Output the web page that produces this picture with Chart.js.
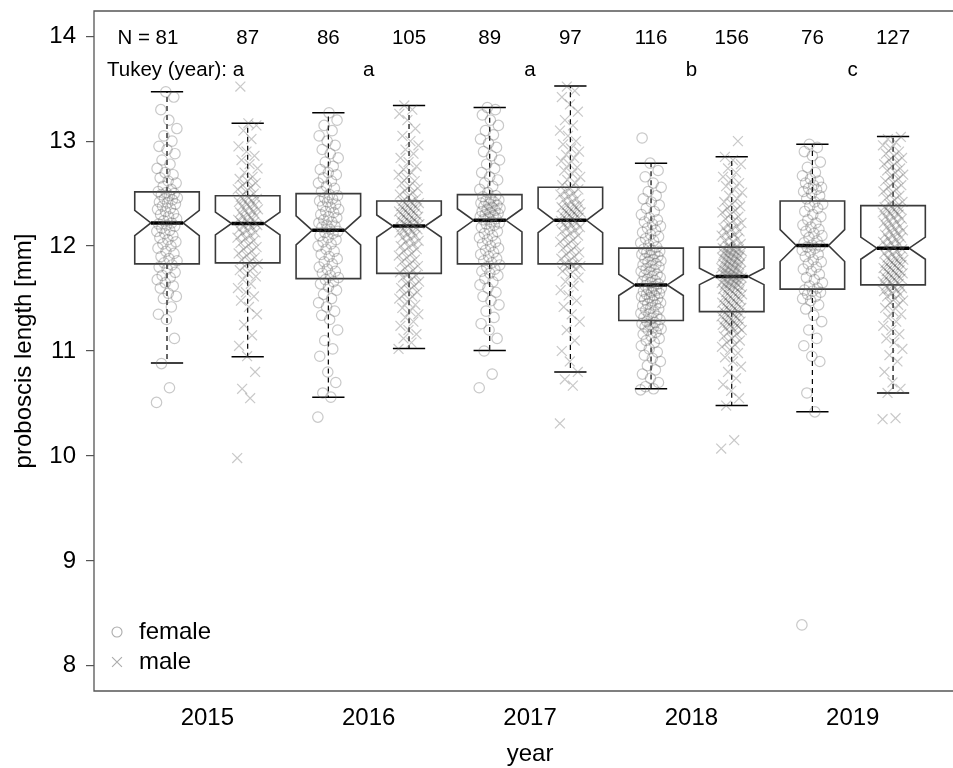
<!DOCTYPE html>
<html>
<head>
<meta charset="utf-8">
<script src="https://cdn.jsdelivr.net/npm/chart.js@4.4.0/dist/chart.umd.min.js"></script>
<style>
  html, body { margin: 0; padding: 0; background: #fff; }
</style>
</head>
<body>
<canvas id="proboscis-chart" width="953" height="768"></canvas>
<script>
// categories
const years = ['2015', '2016', '2017', '2018', '2019'];
const yearTickPos = [1.5, 3.5, 5.5, 7.5, 9.5];
const yTicks = [8, 9, 10, 11, 12, 13, 14];
const tukeyLetters = ['a', 'a', 'a', 'b', 'c'];

// box stats, order: 2015 f, 2015 m, 2016 f, 2016 m, ... 2019 m
const groupN = [81, 87, 86, 105, 89, 97, 116, 156, 76, 127];
const whiskerLo = [10.885, 10.945, 10.56, 11.025, 11.005, 10.80, 10.64, 10.48, 10.42, 10.60];
const q1 = [11.83, 11.84, 11.69, 11.74, 11.83, 11.83, 11.29, 11.375, 11.59, 11.63];
const median = [12.22, 12.215, 12.15, 12.19, 12.245, 12.245, 11.63, 11.71, 12.005, 11.98];
const q3 = [12.516, 12.48, 12.50, 12.43, 12.49, 12.56, 11.98, 11.99, 12.43, 12.385];
const whiskerHi = [13.47, 13.17, 13.27, 13.34, 13.32, 13.525, 12.79, 12.85, 12.97, 13.045];

// individual measurements (mm)
const female2015 = [10.51, 10.65, 10.88, 11.12, 11.3, 11.35, 11.42, 11.5, 11.52, 11.55, 11.6, 11.62, 11.65, 11.68, 11.7, 11.72, 11.75, 11.78, 11.8, 11.82,
  11.84, 11.86, 11.88, 11.9, 11.93, 11.95, 11.98, 12.0, 12.02, 12.04, 12.06, 12.08, 12.1, 12.12, 12.14, 12.15, 12.17, 12.19, 12.2, 12.21,
  12.22, 12.24, 12.26, 12.28, 12.3, 12.31, 12.33, 12.35, 12.36, 12.38, 12.4, 12.41, 12.42, 12.44, 12.45, 12.46, 12.48, 12.49, 12.5, 12.51, 12.52,
  12.54, 12.57, 12.6, 12.62, 12.65, 12.68, 12.7, 12.74, 12.78, 12.82, 12.88, 12.92, 12.95, 13.0, 13.05, 13.12, 13.2, 13.3, 13.42, 13.47];
const male2015 = [9.98, 10.55, 10.64, 10.8, 10.95, 11.05, 11.15, 11.25, 11.35, 11.42, 11.48, 11.52, 11.56, 11.6, 11.64, 11.68, 11.71, 11.74, 11.77, 11.79, 11.81, 11.83,
  11.85, 11.87, 11.89, 11.91, 11.93, 11.95, 11.97, 11.99, 12.01, 12.03, 12.05, 12.07, 12.08, 12.1, 12.12, 12.13, 12.15, 12.16, 12.18, 12.19, 12.2, 12.21,
  12.22, 12.23, 12.24, 12.25, 12.27, 12.28, 12.29, 12.3, 12.32, 12.33, 12.34, 12.35, 12.37, 12.38, 12.39, 12.4, 12.42, 12.43, 12.44, 12.45, 12.46, 12.47,
  12.5, 12.52, 12.54, 12.56, 12.58, 12.6, 12.62, 12.64, 12.66, 12.7, 12.74, 12.78, 12.82, 12.86, 12.9, 12.95, 13.02, 13.1, 13.15, 13.17, 13.52];
const female2016 = [10.37, 10.56, 10.6, 10.7, 10.8, 10.95, 11.02, 11.1, 11.2, 11.3, 11.34, 11.38, 11.42, 11.46, 11.5, 11.54, 11.58, 11.61, 11.64, 11.66, 11.68,
  11.7, 11.72, 11.74, 11.76, 11.78, 11.8, 11.83, 11.85, 11.88, 11.9, 11.92, 11.95, 11.97, 12.0, 12.02, 12.04, 12.06, 12.08, 12.1, 12.12, 12.13, 12.14,
  12.16, 12.18, 12.19, 12.2, 12.22, 12.23, 12.25, 12.27, 12.28, 12.3, 12.32, 12.33, 12.35, 12.37, 12.38, 12.4, 12.42, 12.43, 12.45, 12.46, 12.48, 12.49,
  12.52, 12.55, 12.57, 12.6, 12.62, 12.65, 12.68, 12.7, 12.73, 12.76, 12.8, 12.84, 12.88, 12.92, 12.96, 13.0, 13.05, 13.1, 13.15, 13.2, 13.27];
const male2016 = [11.02, 11.08, 11.12, 11.16, 11.2, 11.24, 11.28, 11.32, 11.35, 11.38, 11.41, 11.44, 11.47, 11.5, 11.52, 11.54, 11.56, 11.58, 11.6, 11.62, 11.64, 11.66, 11.68, 11.7, 11.72, 11.73,
  11.75, 11.77, 11.79, 11.81, 11.83, 11.85, 11.87, 11.89, 11.91, 11.93, 11.95, 11.97, 11.99, 12.0, 12.02, 12.04, 12.05, 12.07, 12.08, 12.1, 12.11, 12.13, 12.14, 12.15, 12.16, 12.17, 12.18,
  12.19, 12.2, 12.21, 12.22, 12.22, 12.23, 12.24, 12.25, 12.26, 12.27, 12.28, 12.29, 12.3, 12.31, 12.32, 12.33, 12.34, 12.35, 12.36, 12.37, 12.38, 12.39, 12.4, 12.41, 12.42, 12.43,
  12.45, 12.47, 12.49, 12.51, 12.53, 12.55, 12.57, 12.6, 12.62, 12.65, 12.68, 12.7, 12.73, 12.76, 12.8, 12.84, 12.88, 12.92, 12.96, 13.0, 13.05, 13.12, 13.2, 13.26, 13.3, 13.34];
const female2017 = [10.65, 10.78, 11.0, 11.12, 11.2, 11.26, 11.32, 11.38, 11.44, 11.48, 11.52, 11.56, 11.6, 11.63, 11.66, 11.69, 11.72, 11.74, 11.76, 11.78, 11.8, 11.82,
  11.84, 11.86, 11.88, 11.9, 11.92, 11.94, 11.96, 11.98, 12.0, 12.02, 12.04, 12.06, 12.08, 12.1, 12.12, 12.14, 12.16, 12.18, 12.2, 12.21, 12.22, 12.23,
  12.25, 12.26, 12.27, 12.28, 12.29, 12.3, 12.31, 12.32, 12.33, 12.34, 12.35, 12.36, 12.37, 12.38, 12.39, 12.4, 12.41, 12.42, 12.43, 12.44, 12.45, 12.47, 12.48,
  12.51, 12.54, 12.57, 12.6, 12.63, 12.66, 12.7, 12.74, 12.78, 12.82, 12.86, 12.9, 12.94, 12.98, 13.02, 13.06, 13.1, 13.15, 13.2, 13.25, 13.3, 13.32];
const male2017 = [10.31, 10.67, 10.73, 10.8, 10.9, 11.0, 11.1, 11.2, 11.28, 11.35, 11.42, 11.48, 11.53, 11.58, 11.62, 11.66, 11.7, 11.73, 11.76, 11.78, 11.8, 11.81, 11.82, 11.83,
  11.84, 11.86, 11.88, 11.9, 11.92, 11.94, 11.96, 11.98, 12.0, 12.02, 12.04, 12.06, 12.08, 12.1, 12.12, 12.14, 12.15, 12.17, 12.18, 12.2, 12.21, 12.22, 12.23, 12.24,
  12.25, 12.26, 12.27, 12.28, 12.29, 12.3, 12.31, 12.32, 12.33, 12.34, 12.35, 12.36, 12.37, 12.38, 12.39, 12.4, 12.42, 12.44, 12.45, 12.47, 12.49, 12.5, 12.52, 12.54, 12.55,
  12.58, 12.6, 12.63, 12.66, 12.69, 12.72, 12.75, 12.78, 12.81, 12.84, 12.87, 12.9, 12.93, 12.97, 13.0, 13.05, 13.1, 13.15, 13.2, 13.28, 13.35, 13.42, 13.48, 13.52];
const female2018 = [10.63, 10.64, 10.66, 10.7, 10.74, 10.78, 10.82, 10.86, 10.9, 10.93, 10.96, 10.99, 11.02, 11.05, 11.08, 11.1, 11.12, 11.14, 11.16, 11.18, 11.2, 11.21, 11.22, 11.23, 11.24, 11.25, 11.26, 11.27, 11.28,
  11.3, 11.31, 11.32, 11.33, 11.35, 11.36, 11.37, 11.39, 11.4, 11.41, 11.43, 11.44, 11.45, 11.46, 11.48, 11.49, 11.5, 11.51, 11.52, 11.53, 11.54, 11.55, 11.56, 11.57, 11.58, 11.59, 11.6, 11.61, 11.62,
  11.64, 11.65, 11.66, 11.67, 11.68, 11.7, 11.71, 11.72, 11.73, 11.75, 11.76, 11.77, 11.78, 11.8, 11.81, 11.82, 11.83, 11.85, 11.86, 11.87, 11.88, 11.9, 11.91, 11.92, 11.93, 11.94, 11.95, 11.96, 11.97,
  11.99, 12.01, 12.03, 12.05, 12.07, 12.09, 12.11, 12.13, 12.15, 12.17, 12.19, 12.21, 12.23, 12.25, 12.27, 12.3, 12.33, 12.36, 12.39, 12.42, 12.45, 12.48, 12.52, 12.56, 12.6, 12.66, 12.72, 12.79, 13.03];
const male2018 = [10.07, 10.15, 10.48, 10.55, 10.62, 10.68, 10.74, 10.8, 10.85, 10.9, 10.94, 10.98, 11.01, 11.04, 11.06, 11.08, 11.1, 11.12, 11.14, 11.16,
  11.18, 11.2, 11.21, 11.22, 11.23, 11.24, 11.25, 11.26, 11.27, 11.28, 11.29, 11.3, 11.31, 11.32, 11.33, 11.34, 11.35, 11.36, 11.37,
  11.38, 11.39, 11.4, 11.41, 11.42, 11.43, 11.44, 11.45, 11.46, 11.47, 11.48, 11.49, 11.5, 11.51, 11.52, 11.53, 11.54, 11.55, 11.56, 11.57, 11.58, 11.59,
  11.6, 11.6, 11.61, 11.62, 11.63, 11.63, 11.64, 11.65, 11.66, 11.66, 11.67, 11.68, 11.68, 11.69, 11.7, 11.7, 11.71,
  11.72, 11.72, 11.73, 11.74, 11.74, 11.75, 11.76, 11.76, 11.77, 11.78, 11.79, 11.79, 11.8, 11.81, 11.82, 11.82, 11.83, 11.84, 11.85, 11.85,
  11.86, 11.87, 11.88, 11.88, 11.89, 11.9, 11.91, 11.91, 11.92, 11.93, 11.94, 11.94, 11.95, 11.96, 11.96, 11.97, 11.98, 11.98, 11.99,
  12.0, 12.02, 12.04, 12.05, 12.07, 12.08, 12.1, 12.11, 12.13, 12.14, 12.16, 12.17, 12.19, 12.2, 12.22, 12.24, 12.26, 12.28, 12.3, 12.32,
  12.34, 12.36, 12.38, 12.4, 12.42, 12.45, 12.48, 12.51, 12.54, 12.57, 12.6, 12.63, 12.66, 12.7, 12.74, 12.78, 12.82, 12.85, 13.0];
const female2019 = [8.39, 10.42, 10.6, 10.9, 10.95, 11.05, 11.12, 11.2, 11.28, 11.34, 11.4, 11.44, 11.48, 11.5, 11.52, 11.54, 11.56, 11.57, 11.58,
  11.6, 11.62, 11.65, 11.68, 11.7, 11.73, 11.76, 11.78, 11.8, 11.83, 11.85, 11.87, 11.9, 11.92, 11.94, 11.96, 11.98, 11.99, 12.0,
  12.01, 12.03, 12.05, 12.08, 12.1, 12.12, 12.14, 12.16, 12.18, 12.2, 12.22, 12.25, 12.28, 12.3, 12.33, 12.36, 12.38, 12.4, 12.42,
  12.45, 12.48, 12.5, 12.52, 12.54, 12.55, 12.56, 12.58, 12.6, 12.62, 12.64, 12.67, 12.7, 12.75, 12.8, 12.86, 12.9, 12.94, 12.97];
const male2019 = [10.35, 10.36, 10.6, 10.64, 10.7, 10.8, 10.9, 10.96, 11.02, 11.08, 11.12, 11.16, 11.2, 11.24, 11.28, 11.32, 11.35, 11.38, 11.41, 11.44, 11.46, 11.48, 11.5, 11.52, 11.54, 11.55, 11.57, 11.58, 11.59, 11.6, 11.61, 11.62,
  11.64, 11.65, 11.66, 11.67, 11.68, 11.69, 11.7, 11.71, 11.72, 11.73, 11.74, 11.75, 11.76, 11.77, 11.78, 11.79, 11.8, 11.81, 11.82, 11.83, 11.84, 11.85, 11.86, 11.87, 11.88, 11.89, 11.9, 11.92, 11.93, 11.95, 11.96, 11.97,
  11.99, 12.0, 12.02, 12.03, 12.04, 12.06, 12.07, 12.08, 12.1, 12.11, 12.12, 12.14, 12.15, 12.16, 12.18, 12.19, 12.2, 12.22, 12.23, 12.24, 12.26, 12.27, 12.28, 12.3, 12.31, 12.32, 12.33, 12.34, 12.35, 12.36, 12.37, 12.38,
  12.4, 12.42, 12.44, 12.46, 12.48, 12.5, 12.52, 12.54, 12.56, 12.58, 12.6, 12.62, 12.64, 12.66, 12.68, 12.7, 12.72, 12.74, 12.76, 12.78, 12.8, 12.82, 12.84, 12.86, 12.88, 12.9, 12.93, 12.96, 12.99, 13.02, 13.04];

const femaleSeries = [female2015, female2016, female2017, female2018, female2019];
const maleSeries = [male2015, male2016, male2017, male2018, male2019];

const FONT = 'Liberation Sans, Arial, sans-serif';
const BOX_HALF = 0.4;    // box half width in x units
const JITTER = 0.26;     // total jitter width in x units
const POINT_COLOR = 'rgba(95, 95, 95, 0.34)';

// spread points sideways a little so they do not sit on one line
function jitterX(pos, i) {
  return pos + (((i * 0.618034) % 1) - 0.5) * JITTER;
}

function toPoints(seriesList, offset) {
  const pts = [];
  seriesList.forEach((vals, k) => {
    const pos = 2 * k + 1 + offset;
    vals.forEach((v, i) => pts.push({ x: jitterX(pos, i), y: v }));
  });
  return pts;
}

// no extra room for overhanging tick labels, the frame must sit at fixed pixels
function noOverhang(scale) {
  scale.paddingTop = 0;
  scale.paddingBottom = 0;
  scale.paddingLeft = 0;
  scale.paddingRight = 0;
}

const boxPlugin = {
  id: 'boxplots',
  beforeDatasetsDraw(chart) {
    const { ctx, scales: { x, y } } = chart;
    ctx.save();
    for (let i = 0; i < groupN.length; i++) {
      const pos = i + 1;
      const cx = x.getPixelForValue(pos);
      const hw = x.getPixelForValue(pos + BOX_HALF) - cx;
      const notch = 1.58 * (q3[i] - q1[i]) / Math.sqrt(groupN[i]);
      const yQ1 = y.getPixelForValue(q1[i]);
      const yQ3 = y.getPixelForValue(q3[i]);
      const yMed = y.getPixelForValue(median[i]);
      const yNHi = y.getPixelForValue(median[i] + notch);
      const yNLo = y.getPixelForValue(median[i] - notch);
      const yLo = y.getPixelForValue(whiskerLo[i]);
      const yHi = y.getPixelForValue(whiskerHi[i]);

      // whiskers
      ctx.strokeStyle = '#000';
      ctx.lineWidth = 1.2;
      ctx.setLineDash([5, 4]);
      ctx.beginPath();
      ctx.moveTo(cx, yQ3); ctx.lineTo(cx, yHi);
      ctx.moveTo(cx, yQ1); ctx.lineTo(cx, yLo);
      ctx.stroke();
      ctx.setLineDash([]);
      ctx.lineWidth = 1.5;
      ctx.beginPath();
      ctx.moveTo(cx - hw / 2, yHi); ctx.lineTo(cx + hw / 2, yHi);
      ctx.moveTo(cx - hw / 2, yLo); ctx.lineTo(cx + hw / 2, yLo);
      ctx.stroke();

      // notched box
      ctx.strokeStyle = '#3a3a3a';
      ctx.lineWidth = 1.6;
      ctx.beginPath();
      ctx.moveTo(cx - hw, yQ3);
      ctx.lineTo(cx + hw, yQ3);
      ctx.lineTo(cx + hw, yNHi);
      ctx.lineTo(cx + hw / 2, yMed);
      ctx.lineTo(cx + hw, yNLo);
      ctx.lineTo(cx + hw, yQ1);
      ctx.lineTo(cx - hw, yQ1);
      ctx.lineTo(cx - hw, yNLo);
      ctx.lineTo(cx - hw / 2, yMed);
      ctx.lineTo(cx - hw, yNHi);
      ctx.closePath();
      ctx.stroke();

      // median
      ctx.strokeStyle = '#000';
      ctx.lineWidth = 3.5;
      ctx.beginPath();
      ctx.moveTo(cx - hw / 2, yMed); ctx.lineTo(cx + hw / 2, yMed);
      ctx.stroke();
    }
    ctx.restore();
  },
  afterDraw(chart) {
    const { ctx, chartArea: a, scales: { x } } = chart;
    ctx.save();
    // frame (right side runs off the canvas)
    ctx.strokeStyle = '#555';
    ctx.lineWidth = 1.3;
    ctx.beginPath();
    ctx.moveTo(a.right + 2, a.top); ctx.lineTo(a.left, a.top);
    ctx.lineTo(a.left, a.bottom); ctx.lineTo(a.right + 2, a.bottom);
    ctx.stroke();

    // sample sizes
    ctx.fillStyle = '#000';
    ctx.font = '20.5px ' + FONT;
    ctx.textBaseline = 'middle';
    ctx.textAlign = 'center';
    groupN.forEach((n, i) => {
      const cx = x.getPixelForValue(i + 1);
      ctx.fillText(String(n), cx, a.top + 27);
      if (i === 0) {
        ctx.textAlign = 'right';
        ctx.fillText('N = ', cx - ctx.measureText(String(n)).width / 2, a.top + 27);
        ctx.textAlign = 'center';
      }
    });

    // Tukey groups
    ctx.textAlign = 'left';
    const label = 'Tukey (year): ';
    const lx = a.left + 13;
    ctx.fillText(label, lx, a.top + 59);
    ctx.fillText(tukeyLetters[0], lx + ctx.measureText(label).width, a.top + 59);
    ctx.textAlign = 'center';
    tukeyLetters.slice(1).forEach((t, k) => {
      ctx.fillText(t, x.getPixelForValue(yearTickPos[k + 1]), a.top + 59);
    });

    // x axis title, centred on the full (partly cropped) plot region
    ctx.font = '24px ' + FONT;
    ctx.fillText('year', x.getPixelForValue(yearTickPos[2]), a.bottom + 63);

    // legend
    const lgX = a.left + 23;
    const rows = [
      { text: 'female', style: 'circle', r: 5, y: a.bottom - 59 },
      { text: 'male', style: 'crossRot', r: 7, y: a.bottom - 29 }
    ];
    ctx.textAlign = 'left';
    rows.forEach(r => {
      ctx.strokeStyle = 'rgba(150, 150, 150, 0.8)';
      ctx.fillStyle = 'rgba(0, 0, 0, 0)';
      ctx.lineWidth = 1.1;
      Chart.helpers.drawPoint(ctx, { pointStyle: r.style, radius: r.r, rotation: 0, borderWidth: 1.1 }, lgX, r.y);
      ctx.fillStyle = '#000';
      ctx.fillText(r.text, lgX + 22, r.y);
    });
    ctx.restore();
  }
};

const ctx = document.getElementById('proboscis-chart').getContext('2d');

const chart = new Chart(ctx, {
  type: 'scatter',
  data: {
    datasets: [
      {
        label: 'female',
        data: toPoints(femaleSeries, 0),
        pointStyle: 'circle',
        pointRadius: 5.2,
        pointBorderWidth: 1.2,
        pointBackgroundColor: 'rgba(0,0,0,0)',
        pointBorderColor: POINT_COLOR
      },
      {
        label: 'male',
        data: toPoints(maleSeries, 1),
        pointStyle: 'crossRot',
        pointRadius: 7,
        pointBorderWidth: 1.2,
        pointBorderColor: POINT_COLOR
      }
    ]
  },
  options: {
    responsive: false,
    devicePixelRatio: 1,
    animation: false,
    layout: {
      autoPadding: false,
      padding: { top: 11, right: 0, left: 0, bottom: 0 }
    },
    plugins: {
      legend: { display: false },
      tooltip: { enabled: false }
    },
    scales: {
      x: {
        type: 'linear',
        min: 0.095,
        max: 10.743,
        grid: { display: false },
        border: { display: false },
        afterBuildTicks(scale) {
          scale.ticks = yearTickPos.map(v => ({ value: v }));
        },
        ticks: {
          autoSkip: false,
          maxRotation: 0,
          padding: 5,
          color: '#000',
          font: { family: FONT, size: 24 },
          callback(value) {
            return years[yearTickPos.indexOf(value)];
          }
        },
        afterFit(scale) {
          scale.height = 77;
          noOverhang(scale);
        }
      },
      y: {
        type: 'linear',
        min: 7.76,
        max: 14.24,
        grid: {
          drawOnChartArea: false,
          drawTicks: true,
          tickLength: 8,
          color: '#555',
          lineWidth: 1.2
        },
        border: { display: false },
        afterBuildTicks(scale) {
          scale.ticks = yTicks.map(v => ({ value: v }));
        },
        ticks: {
          padding: 10,
          color: '#000',
          font: { family: FONT, size: 24 }
        },
        title: {
          display: true,
          text: 'proboscis length [mm]',
          color: '#000',
          font: { family: FONT, size: 24 },
          padding: { top: 10, bottom: 0 }
        },
        afterFit(scale) {
          scale.width = 94;
          noOverhang(scale);
        }
      }
    }
  },
  plugins: [boxPlugin]
});
</script>
</body>
</html>
